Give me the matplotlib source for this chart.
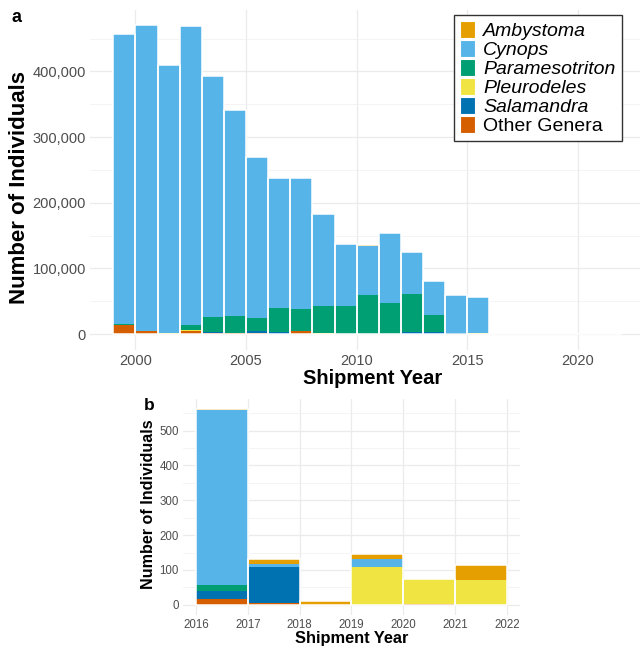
import matplotlib
matplotlib.use("Agg")
import matplotlib.pyplot as plt
import numpy as np
from matplotlib.patches import Patch
from matplotlib.ticker import FuncFormatter, MultipleLocator

plt.rcParams["font.family"] = ["Liberation Sans", "DejaVu Sans"]

# shipment counts per genus, one entry per year
years = np.arange(1999, 2022)
other = [14000, 4500, 0, 4000, 1000, 1000, 1000, 0, 4500, 0, 0, 0, 500, 0,
         0, 0, 0, 16, 6, 0, 0, 3, 0]
salamandra = [0, 0, 0, 0, 2000, 0, 3000, 3000, 0, 0, 0, 0, 0, 3000,
              3000, 1000, 0, 24, 101, 0, 0, 0, 0]
pleurodeles = [0, 0, 1500, 1500, 0, 0, 0, 0, 0, 1500, 0, 0, 0, 0,
               0, 0, 2000, 0, 0, 0, 108, 71, 72]
paramesotriton = [1000, 0, 0, 8500, 23000, 26500, 20000, 36500, 33500,
                  41000, 43500, 59000, 47500, 58000, 26000, 0, 0, 18, 0,
                  0, 0, 0, 0]
cynops = [442000, 465500, 408000, 455000, 367000, 313500, 245000, 198000,
          199000, 140500, 93000, 75500, 105500, 63500, 51500, 58000, 54500,
          500, 10, 0, 22, 0, 0]
ambystoma = [0, 0, 500, 0, 0, 0, 0, 0, 0, 0, 0, 500, 500, 0, 0, 0, 0,
             3, 13, 12, 15, 0, 41]

# bottom-to-top stacking order
genera = ["Other Genera", "Salamandra", "Pleurodeles", "Paramesotriton",
          "Cynops", "Ambystoma"]
series = [other, salamandra, pleurodeles, paramesotriton, cynops, ambystoma]
colors = {"Ambystoma": "#E69F00", "Cynops": "#56B4E9",
          "Paramesotriton": "#009E73", "Pleurodeles": "#F0E442",
          "Salamandra": "#0072B2", "Other Genera": "#D55E00"}

W, H = 642, 646
fig = plt.figure(figsize=(W / 100, H / 100), dpi=100)


def px_axes(l, t, r, b):
    return fig.add_axes([l / W, 1 - b / H, (r - l) / W, (b - t) / H])


def stacked(ax, mask):
    x = years[mask] + 0.5
    bottom = np.zeros(mask.sum())
    for name, vals in zip(genera, series):
        v = np.asarray(vals, dtype=float)[mask]
        ax.bar(x, v, width=1.0, bottom=bottom, color=colors[name],
               linewidth=0, zorder=2)
        bottom += v
    # white outline around each year's bar
    ax.bar(x, bottom, width=1.0, facecolor="none", edgecolor="white",
           linewidth=1.1, zorder=3)


def style(ax, tick_size):
    for s in ax.spines.values():
        s.set_visible(False)
    ax.tick_params(which="both", length=0, labelsize=tick_size,
                   labelcolor="#4D4D4D", pad=3)
    ax.grid(True, which="major", color="#EBEBEB", lw=0.9, zorder=0)
    ax.grid(True, which="minor", axis="y", color="#F0F0F0", lw=0.5, zorder=0)
    ax.set_axisbelow(True)


# panel a: all years
ax1 = px_axes(90, 10, 640, 349.5)
stacked(ax1, np.ones(len(years), bool))
ax1.set_xlim(1997.95, 2022.8)
ax1.set_ylim(-23500, 493500)
ax1.xaxis.set_major_locator(MultipleLocator(5))
ax1.yaxis.set_major_locator(MultipleLocator(100000))
ax1.yaxis.set_minor_locator(MultipleLocator(50000))
ax1.yaxis.set_major_formatter(FuncFormatter(lambda v, p: f"{int(v):,}"))
style(ax1, 10.5)

handles = [Patch(facecolor=colors[g], edgecolor="white", lw=0.8)
           for g in genera[::-1]]
leg = ax1.legend(handles, genera[::-1], loc="upper right",
                 bbox_to_anchor=(621.5 / W, 1 - 15 / H),
                 bbox_transform=fig.transFigure, fontsize=14,
                 frameon=True, fancybox=False, edgecolor="#333333",
                 framealpha=1, handlelength=0.75, handleheight=0.95,
                 handletextpad=0.45, labelspacing=0.0, borderpad=0.3,
                 borderaxespad=0)
leg.get_frame().set_linewidth(1.0)
for t in leg.get_texts()[:5]:
    t.set_fontstyle("italic")

fig.text(17 / W, 1 - 18 / H, "a", fontsize=13, fontweight="bold",
         ha="center", va="center")
fig.text(20 / W, 1 - 187 / H, "Number of Individuals", rotation=90,
         fontsize=16, fontweight="bold", ha="center", va="center")
fig.text(373 / W, 1 - 378 / H, "Shipment Year", fontsize=14.5,
         fontweight="bold", ha="center", va="center")

# panel b: recent years only
ax2 = px_axes(183, 399.3, 520, 614.5)
stacked(ax2, years >= 2016)
ax2.set_xlim(2015.75, 2022.25)
ax2.set_ylim(-28, 590)
ax2.xaxis.set_major_locator(MultipleLocator(1))
ax2.yaxis.set_major_locator(MultipleLocator(100))
ax2.yaxis.set_minor_locator(MultipleLocator(50))
style(ax2, 8.3)

fig.text(149 / W, 1 - 406 / H, "b", fontsize=12.5, fontweight="bold",
         ha="center", va="center")
fig.text(148.5 / W, 1 - 504 / H, "Number of Individuals", rotation=90,
         fontsize=11.6, fontweight="bold", ha="center", va="center")
fig.text(351.5 / W, 1 - 638 / H, "Shipment Year", fontsize=11.8,
         fontweight="bold", ha="center", va="center")

fig.savefig("out.png", dpi=100, facecolor="white")
